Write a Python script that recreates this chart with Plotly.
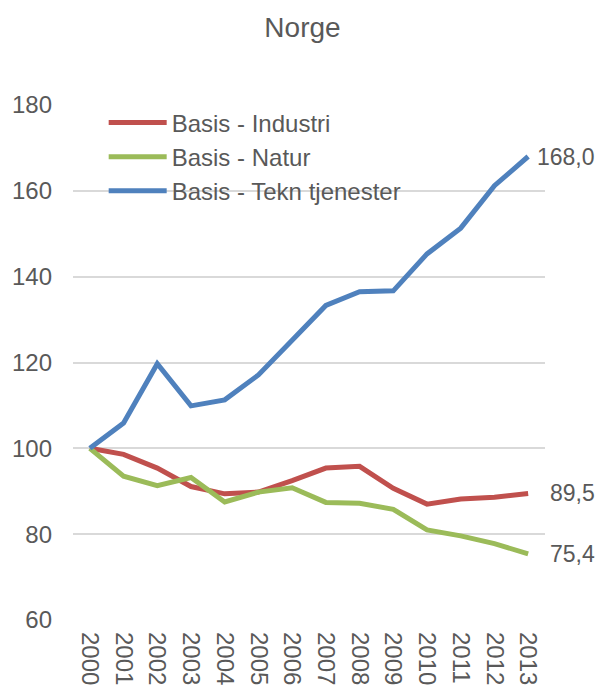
import plotly.graph_objects as go

# Data
years = [str(y) for y in range(2000, 2014)]
industri = [100.0, 98.6, 95.4, 91.1, 89.4, 89.8, 92.5, 95.4, 95.8, 90.7, 87.0, 88.2, 88.6, 89.5]
natur = [100.0, 93.5, 91.3, 93.2, 87.5, 89.8, 90.8, 87.4, 87.2, 85.8, 81.0, 79.6, 77.8, 75.4]
tekn = [100.0, 105.9, 119.7, 109.9, 111.3, 117.1, 125.2, 133.3, 136.5, 136.7, 145.3, 151.3, 161.2, 168.0]

series = [
    ("Basis - Industri", industri, "#C0504D", 20),
    ("Basis - Natur", natur, "#9BBB59", 20),
    ("Basis - Tekn tjenester", tekn, "#4F81BD", 7),
]

font = "Liberation Sans, Arial, sans-serif"
grey = "#595959"

fig = go.Figure()
last = len(years) - 1
for name, vals, color, shift in series:
    fig.add_trace(go.Scatter(
        x=years, y=vals, name=name, mode="lines",
        line=dict(color=color, width=5),
    ))
    # end-of-line value label
    fig.add_annotation(
        x=last, y=vals[-1], text=f"{vals[-1]:.1f}".replace(".", ","),
        showarrow=False, xanchor="left", yanchor="middle", xshift=shift,
        font=dict(family=font, size=23, color=grey),
    )

fig.update_layout(
    width=599, height=686,
    margin=dict(l=73, r=54, t=105, b=66),
    paper_bgcolor="white", plot_bgcolor="white",
    title=dict(text="Norge", x=0.505, xanchor="center", y=0.96, yanchor="middle",
               font=dict(family=font, size=28, color=grey)),
    font=dict(family=font, size=24, color=grey),
    legend=dict(x=0.065, y=1.009, xanchor="left", yanchor="top",
                bgcolor="rgba(0,0,0,0)", itemwidth=58,
                font=dict(family=font, size=24, color=grey)),
)
fig.update_xaxes(type="category", range=[-0.5, 13.5], tickangle=90,
                 showgrid=False, showline=False, ticks="", automargin=False,
                 ticklabelstandoff=11,
                 tickfont=dict(family=font, size=24, color=grey))
fig.update_yaxes(range=[60, 180], dtick=20, showgrid=True, gridcolor="#D9D9D9",
                 gridwidth=1.5, zeroline=False, showline=False, ticks="",
                 automargin=False, ticklabelstandoff=20,
                 tickfont=dict(family=font, size=24, color=grey))

# drop the default body margin so the figure fills the window exactly
fig.write_html("out.html", config={"displayModeBar": False},
               post_script="document.body.style.margin='0';document.body.style.overflow='hidden';")
